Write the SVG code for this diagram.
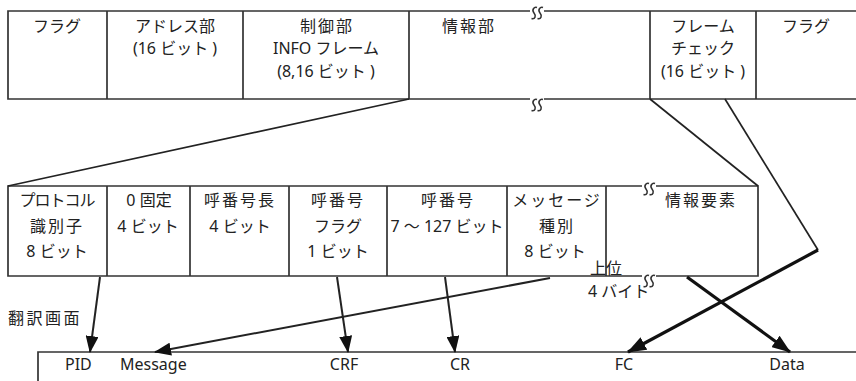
<svg xmlns="http://www.w3.org/2000/svg" width="856" height="381" viewBox="0 0 856 381">
<style>
text{font-family:"Noto Sans","Noto Sans CJK JP",sans-serif;font-size:16px;fill:#222}
.m{text-anchor:middle}
.k{letter-spacing:2px}
.fr{stroke:#333;stroke-width:1.7;fill:none}
.sq{stroke:#333;stroke-width:1.6;fill:none}
.ln{stroke:#222;stroke-width:1.7;fill:none}
.ar{stroke:#222;stroke-width:2;fill:none}
.th{stroke:#111;stroke-width:3.2;fill:none}
</style>
<defs>
<marker id="ah" viewBox="0 0 17 13" markerWidth="17" markerHeight="13" refX="16" refY="6.5" orient="auto" markerUnits="userSpaceOnUse"><path d="M0,0 L17,6.5 L0,13 Z" fill="#111"/></marker>
<marker id="ahb" viewBox="0 0 19 14" markerWidth="19" markerHeight="14" refX="18" refY="7" orient="auto" markerUnits="userSpaceOnUse"><path d="M0,0 L19,7 L0,14 Z" fill="#111"/></marker>
<path id="ss" d="M3,-5.5 C0,-6.5 -2.5,-3 0,0 C2.5,3 1,6.5 -2.5,5.5 M9,-5.5 C6,-6.5 3.5,-3 6,0 C8.5,3 7,6.5 3.5,5.5"/>
</defs>

<g id="frame-top">
<path class="fr" d="M856,11 H544 M530,11 H8 V99 H530 M544,99 H856 M107,11 V99 M243,11 V99 M409,11 V99 M650,11 V99 M756,11 V99"/>
<use href="#ss" class="sq" x="534" y="13"/>
<use href="#ss" class="sq" x="534" y="105"/>
</g>
<g id="n-flag1"><text class="m" x="57" y="32">フラグ</text></g>
<g id="n-address"><text class="m" x="175" y="32">アドレス部</text><text class="m" x="175" y="54">(16 ビット )</text></g>
<g id="n-control"><text class="m k" x="327" y="32">制御部</text><text class="m" x="326" y="54">INFO フレーム</text><text class="m" x="326" y="77">(8,16 ビット )</text></g>
<g id="n-info"><text class="k" x="442" y="32">情報部</text></g>
<g id="n-fcs"><text class="m" x="703" y="32">フレーム</text><text class="m" x="703" y="54">チェック</text><text class="m" x="703" y="77">(16 ビット )</text></g>
<g id="n-flag2"><text class="m" x="806" y="32">フラグ</text></g>

<g id="frame-mid">
<path class="fr" d="M642,186 H8 V276 H642 M656,186 H758 V276 H656 M107,186 V276 M190,186 V276 M289,186 V276 M387,186 V276 M507,186 V276 M606,186 V276"/>
<use href="#ss" class="sq" x="646" y="189"/>
<use href="#ss" class="sq" x="646" y="281"/>
</g>
<g id="n-pid"><text class="m" x="57" y="206" style="letter-spacing:-1px">プロトコル</text><text class="m k" x="57" y="232">識別子</text><text class="m" x="57" y="257">8 ビット</text></g>
<g id="n-zero"><text class="m" x="149" y="206">0 固定</text><text class="m" x="148" y="232">4 ビット</text></g>
<g id="n-crlen"><text class="m k" x="240" y="206">呼番号長</text><text class="m" x="240" y="232">4 ビット</text></g>
<g id="n-crf"><text class="m k" x="338" y="206">呼番号</text><text class="m" x="338" y="232">フラグ</text><text class="m" x="338" y="257">1 ビット</text></g>
<g id="n-cr"><text class="m k" x="448" y="206">呼番号</text><text class="m" x="447" y="232">7 ～ 127 ビット</text></g>
<g id="n-msg"><text class="m k" x="557" y="206">メッセージ</text><text class="m k" x="557" y="232">種別</text><text class="m" x="555" y="257">8 ビット</text></g>
<g id="n-ie"><text class="k" x="665" y="206">情報要素</text></g>
<g id="n-upper"><text x="590" y="274">上位</text><text x="588" y="297">4 バイト</text></g>

<g id="screen">
<text x="8" y="324" style="letter-spacing:2.5px">翻訳画面</text>
<path class="fr" d="M38,381 V352 H856"/>
<text x="65" y="370">PID</text>
<text x="120" y="370">Message</text>
<text class="m" x="344" y="370">CRF</text>
<text class="m" x="460" y="370">CR</text>
<text class="m" x="624" y="370">FC</text>
<text class="m" x="787" y="370">Data</text>
</g>

<g id="connectors">
<path class="ln" d="M409,99 L8,186"/>
<path class="ln" d="M650,99 L758,186"/>
<path class="ln" d="M725,99 L818,250"/>
<path class="th" d="M818,250 L628,352" marker-end="url(#ahb)"/>
<path class="th" d="M687,277 L790,352" marker-end="url(#ahb)"/>
<path class="ar" d="M100,277 L90,352" marker-end="url(#ah)"/>
<path class="ar" d="M337,277 L348,352" marker-end="url(#ah)"/>
<path class="ar" d="M445,277 L455,352" marker-end="url(#ah)"/>
<path class="ar" d="M550,278 L155,352" marker-end="url(#ah)"/>
</g>
</svg>
